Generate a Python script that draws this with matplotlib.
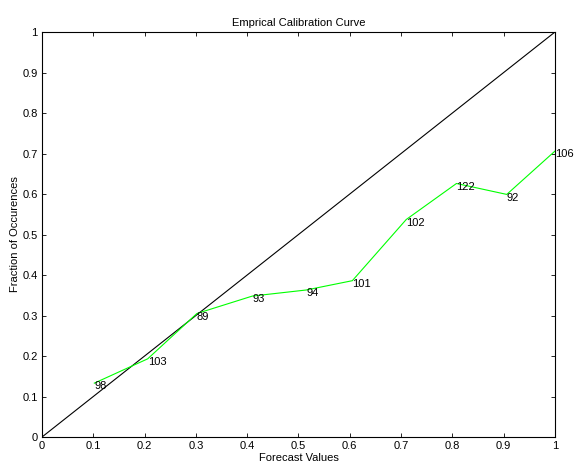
import numpy as np
import matplotlib
matplotlib.use("Agg")
import matplotlib.pyplot as plt

plt.rcParams['font.family'] = ['Liberation Sans', 'DejaVu Sans']

# calibration data
forecast = [0.102, 0.206, 0.302, 0.41, 0.515, 0.605, 0.71, 0.808, 0.906, 1.0]
observed = [0.133, 0.193, 0.305, 0.348, 0.363, 0.386, 0.537, 0.626, 0.599, 0.706]
counts = [98, 103, 89, 93, 94, 101, 102, 122, 92, 106]
ticks = np.arange(0, 1.01, 0.1)
tick_labels = ['0', '0.1', '0.2', '0.3', '0.4', '0.5', '0.6', '0.7', '0.8', '0.9', '1']

fig = plt.figure(figsize=(5.76, 4.66), dpi=100)
ax = fig.add_axes([0.0729, 0.0622, 0.8906, 0.8691])

ax.plot([0, 1], [0, 1], color='black', lw=0.8)
ax.plot(forecast, observed, color='#00ff00', lw=0.8)
for x, y, n in zip(forecast, observed, counts):
    ax.text(x, y - 0.008, str(n), fontsize=8, ha='left', va='center')

ax.set_xlim(0, 1)
ax.set_ylim(0, 1)
ax.set_xticks(ticks)
ax.set_xticklabels(tick_labels)
ax.set_yticks(ticks)
ax.set_yticklabels(tick_labels)
ax.tick_params(direction='in', length=3, labelsize=8, width=0.6, top=True, right=True,
               labeltop=False, labelright=False, pad=3)
for s in ax.spines.values():
    s.set_linewidth(0.8)

ax.set_title("Emprical Calibration Curve", fontsize=8, pad=4)
ax.set_xlabel("Forecast Values", fontsize=8, labelpad=1)
ax.set_ylabel("Fraction of Occurences", fontsize=8, labelpad=2)

fig.savefig("out.png", dpi=100)
